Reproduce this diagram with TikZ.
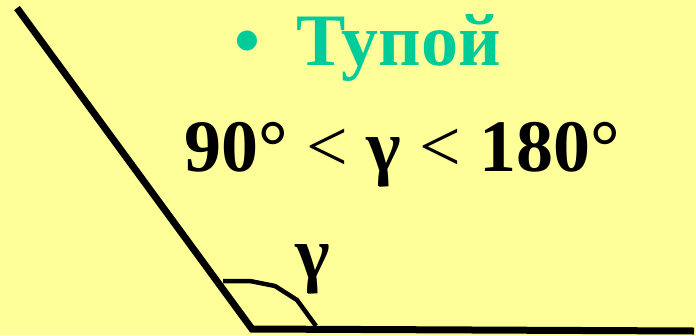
\documentclass[tikz,border=0pt]{standalone}
\usepackage{fontspec}
\setmainfont{Liberation Serif}
\definecolor{bgyellow}{HTML}{FFFF99}
\definecolor{tealtxt}{HTML}{00CC99}
\begin{document}
\begin{tikzpicture}[x=1pt,y=-1pt,
  bigtxt/.style={font=\fontsize{74}{80}\selectfont\bfseries, inner sep=0pt},
  side/.style={line width=7pt, line cap=butt, line join=miter},
  anglemark/.style={line width=4.5pt, line join=round}]
\fill[bgyellow] (0,0) rectangle (696,335);
\useasboundingbox (0,0) rectangle (696,335);
% rays
\coordinate (top) at (17,8);
\coordinate (vtx) at (252,329);
\coordinate (right) at (694,331);
\draw[side] (top) -- (vtx) -- (right);
% angle mark
\coordinate (a0) at (223,281);
\coordinate (a1) at (250,281);
\coordinate (a2) at (275,286);
\coordinate (a3) at (297,300);
\coordinate (a4) at (316,326);
\draw[anglemark] (a0) -- (a1) -- (a2) -- (a3) -- (a4);
% texts
\node[bigtxt, text=tealtxt, anchor=base west] (bul) at (234,65) {•};
\node[bigtxt, text=tealtxt, anchor=base west] (title) at (296,65) {Тупой};
\node[bigtxt, anchor=base west] (formula) at (184,171) {90° {\mdseries<} γ {\mdseries<} 180°};
\node[bigtxt, anchor=base] (gam) at (313,278) {γ};
\end{tikzpicture}
\end{document}
